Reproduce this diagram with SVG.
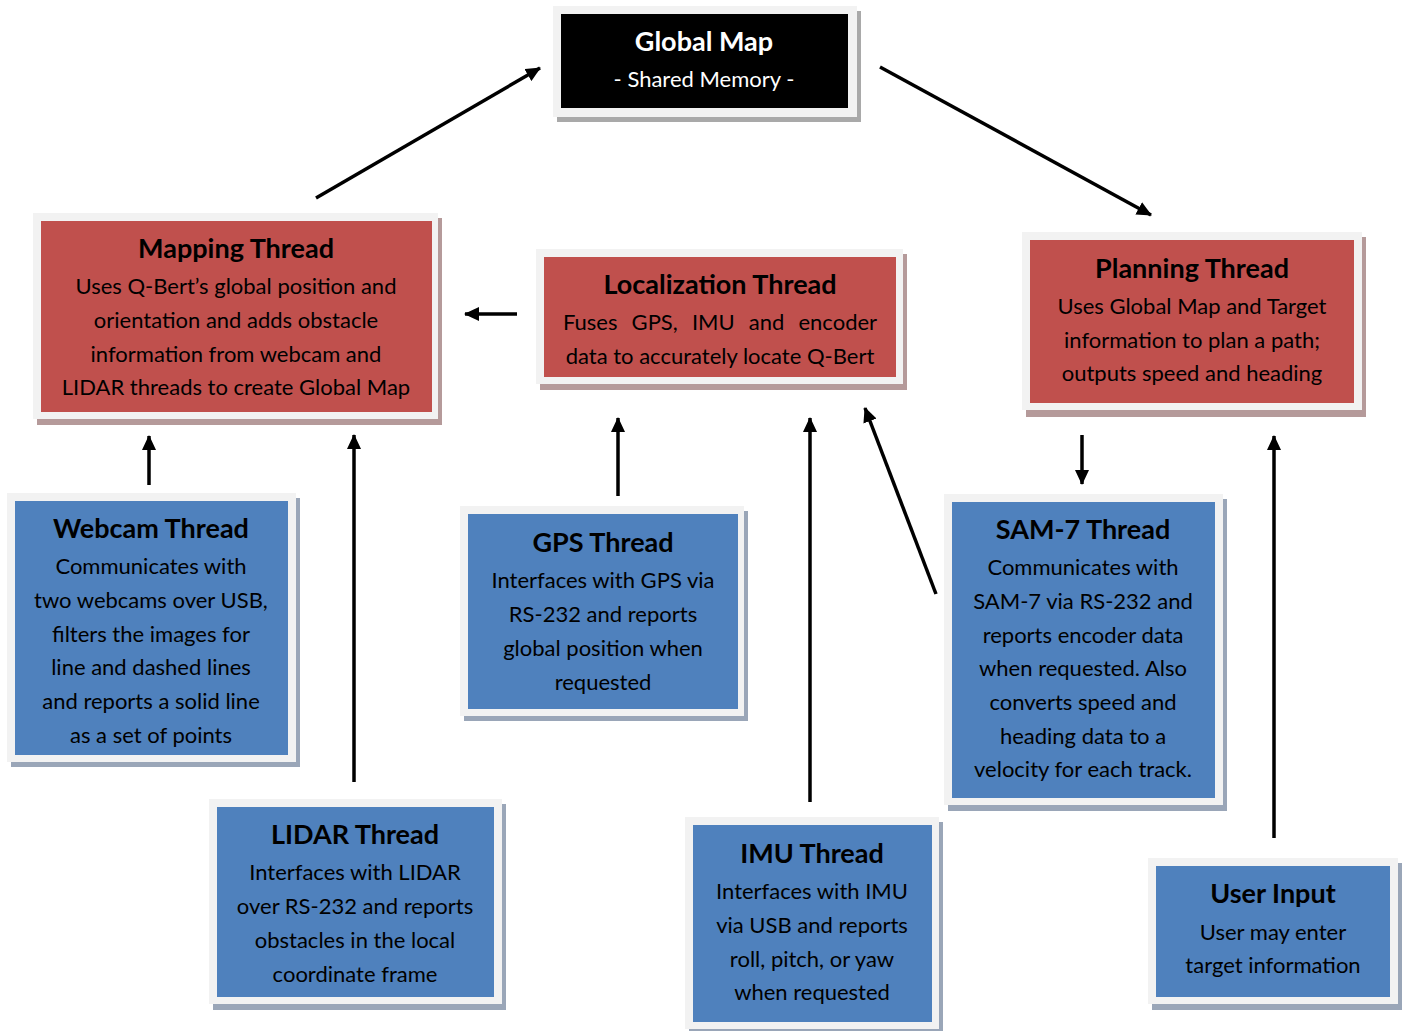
<svg xmlns="http://www.w3.org/2000/svg" width="1406" height="1031" viewBox="0 0 1406 1031">
<defs>
<style>
.frame{fill:#f2f2f2;}
.red{fill:#c0504d;}
.blue{fill:#4f81bd;}
.blk{fill:#000;}
.shr{fill:#b59a9a;}
.shb{fill:#9aa6b8;}
.shk{fill:#a9a9a9;}
text{font-family:Lato,"Liberation Sans",sans-serif;text-anchor:middle;fill:#000;}
.t{font-size:27px;font-weight:bold;}
.b{font-size:22px;}
.w{fill:#fff;}
.just{word-spacing:8.5px;}
.conn line{stroke:#000;stroke-width:3.5;marker-end:url(#ah);}
</style>
<marker id="ah" markerUnits="userSpaceOnUse" markerWidth="16" markerHeight="14" refX="14" refY="7" orient="auto">
<path d="M0,0 L15,7 L0,14 z" fill="#000"/>
</marker>
</defs>
<rect width="1406" height="1031" fill="#fff"/>

<g id="global-map">
<rect class="shk" x="557" y="11" width="304" height="111"/>
<rect class="frame" x="553" y="6" width="304" height="111"/>
<rect class="blk" x="561" y="14" width="287" height="94"/>
<text class="t w" x="704" y="51">Global Map</text>
<text class="b w" x="704" y="87">- Shared Memory -</text>
</g>

<g id="mapping-thread">
<rect class="shr" x="37" y="218" width="405" height="207"/>
<rect class="frame" x="33" y="213" width="405" height="206"/>
<rect class="red" x="41" y="221" width="391" height="191"/>
<text class="t" x="236" y="258">Mapping Thread</text>
<text class="b" x="236" y="294">Uses Q-Bert’s global position and</text>
<text class="b" x="236" y="328">orientation and adds obstacle</text>
<text class="b" x="236" y="362">information from webcam and</text>
<text class="b" x="236" y="395">LIDAR threads to create Global Map</text>
</g>

<g id="localization-thread">
<rect class="shr" x="540" y="254" width="367" height="136"/>
<rect class="frame" x="536" y="249" width="367" height="135"/>
<rect class="red" x="544" y="257" width="352" height="120"/>
<text class="t" x="720" y="294">Localization Thread</text>
<text class="b just" x="720" y="330">Fuses GPS, IMU and encoder</text>
<text class="b" x="720" y="364">data to accurately locate Q-Bert</text>
</g>

<g id="planning-thread">
<rect class="shr" x="1026" y="237" width="340" height="180"/>
<rect class="frame" x="1022" y="232" width="340" height="178"/>
<rect class="red" x="1030" y="240" width="324" height="163"/>
<text class="t" x="1192" y="278">Planning Thread</text>
<text class="b" x="1192" y="314">Uses Global Map and Target</text>
<text class="b" x="1192" y="348">information to plan a path;</text>
<text class="b" x="1192" y="381">outputs speed and heading</text>
</g>

<g id="webcam-thread">
<rect class="shb" x="11" y="498" width="289" height="269"/>
<rect class="frame" x="7" y="493" width="289" height="269"/>
<rect class="blue" x="15" y="501" width="273" height="254"/>
<text class="t" x="151" y="538">Webcam Thread</text>
<text class="b" x="151" y="574">Communicates with</text>
<text class="b" x="151" y="608">two webcams over USB,</text>
<text class="b" x="151" y="642">filters the images for</text>
<text class="b" x="151" y="675">line and dashed lines</text>
<text class="b" x="151" y="709">and reports a solid line</text>
<text class="b" x="151" y="743">as a set of points</text>
</g>

<g id="gps-thread">
<rect class="shb" x="464" y="511" width="284" height="210"/>
<rect class="frame" x="460" y="506" width="284" height="210"/>
<rect class="blue" x="468" y="514" width="270" height="195"/>
<text class="t" x="603" y="552">GPS Thread</text>
<text class="b" x="603" y="588">Interfaces with GPS via</text>
<text class="b" x="603" y="622">RS-232 and reports</text>
<text class="b" x="603" y="656">global position when</text>
<text class="b" x="603" y="690">requested</text>
</g>

<g id="sam7-thread">
<rect class="shb" x="948" y="499" width="279" height="312"/>
<rect class="frame" x="944" y="494" width="279" height="311"/>
<rect class="blue" x="952" y="502" width="263" height="296"/>
<text class="t" x="1083" y="539">SAM-7 Thread</text>
<text class="b" x="1083" y="575">Communicates with</text>
<text class="b" x="1083" y="609">SAM-7 via RS-232 and</text>
<text class="b" x="1083" y="643">reports encoder data</text>
<text class="b" x="1083" y="676">when requested. Also</text>
<text class="b" x="1083" y="710">converts speed and</text>
<text class="b" x="1083" y="744">heading data to a</text>
<text class="b" x="1083" y="777">velocity for each track.</text>
</g>

<g id="lidar-thread">
<rect class="shb" x="213" y="804" width="293" height="206"/>
<rect class="frame" x="209" y="799" width="293" height="205"/>
<rect class="blue" x="217" y="807" width="277" height="190"/>
<text class="t" x="355" y="844">LIDAR Thread</text>
<text class="b" x="355" y="880">Interfaces with LIDAR</text>
<text class="b" x="355" y="914">over RS-232 and reports</text>
<text class="b" x="355" y="948">obstacles in the local</text>
<text class="b" x="355" y="982">coordinate frame</text>
</g>

<g id="imu-thread">
<rect class="shb" x="689" y="822" width="254" height="212"/>
<rect class="frame" x="685" y="817" width="254" height="212"/>
<rect class="blue" x="693" y="825" width="239" height="197"/>
<text class="t" x="812" y="863">IMU Thread</text>
<text class="b" x="812" y="899">Interfaces with IMU</text>
<text class="b" x="812" y="933">via USB and reports</text>
<text class="b" x="812" y="967">roll, pitch, or yaw</text>
<text class="b" x="812" y="1000">when requested</text>
</g>

<g id="user-input">
<rect class="shb" x="1152" y="863" width="250" height="147"/>
<rect class="frame" x="1148" y="858" width="250" height="146"/>
<rect class="blue" x="1156" y="866" width="234" height="131"/>
<text class="t" x="1273" y="903">User Input</text>
<text class="b" x="1273" y="940">User may enter</text>
<text class="b" x="1273" y="973">target information</text>
</g>

<g id="connectors" class="conn">
<line x1="316" y1="198" x2="540" y2="68"/>
<line x1="880" y1="67" x2="1151" y2="215"/>
<line x1="517" y1="314" x2="465" y2="314"/>
<line x1="149" y1="485" x2="149" y2="436"/>
<line x1="354" y1="782" x2="354" y2="435"/>
<line x1="618" y1="496" x2="618" y2="418"/>
<line x1="810" y1="802" x2="810" y2="418"/>
<line x1="936" y1="594" x2="865" y2="408"/>
<line x1="1082" y1="435" x2="1082" y2="484"/>
<line x1="1274" y1="838" x2="1274" y2="436"/>
</g>
</svg>
